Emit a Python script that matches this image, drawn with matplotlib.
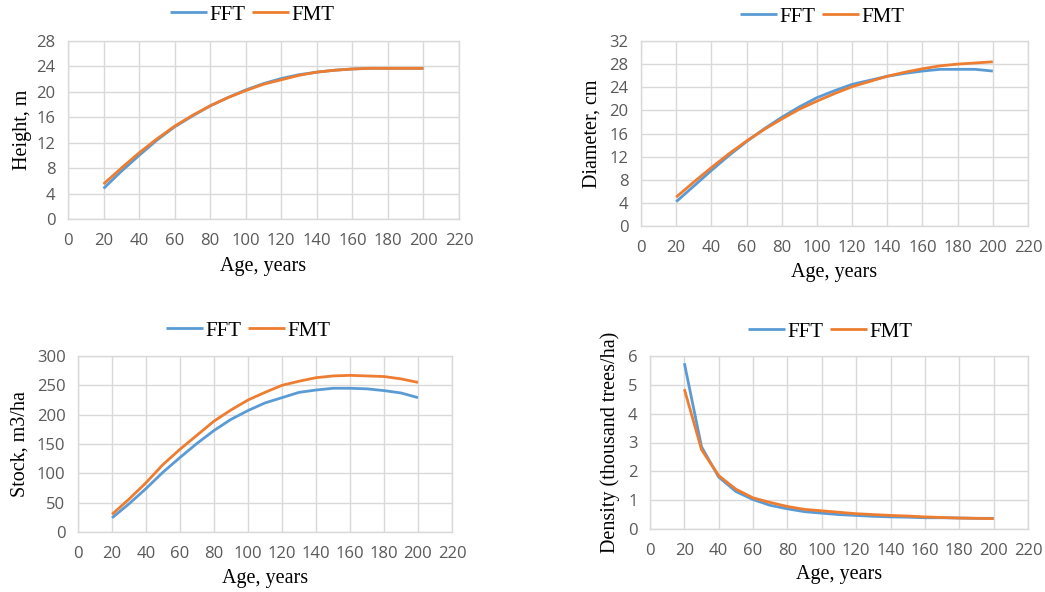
import matplotlib.pyplot as plt

W, H = 1045, 592

age = [20, 30, 40, 50, 60, 70, 80, 90, 100, 110, 120, 130, 140, 150, 160, 170, 180, 190, 200]

height_fft = [4.8, 7.5, 10.0, 12.4, 14.5, 16.2, 17.8, 19.1, 20.3, 21.3, 22.1, 22.7, 23.1, 23.4, 23.6, 23.7, 23.7, 23.7, 23.7]
height_fmt = [5.5, 8.0, 10.4, 12.6, 14.6, 16.3, 17.8, 19.1, 20.2, 21.2, 21.9, 22.6, 23.1, 23.4, 23.6, 23.7, 23.7, 23.7, 23.7]

diam_fft = [4.2, 6.9, 9.6, 12.2, 14.6, 16.8, 18.8, 20.6, 22.2, 23.4, 24.5, 25.2, 25.9, 26.4, 26.8, 27.1, 27.1, 27.1, 26.8]
diam_fmt = [5.0, 7.6, 10.1, 12.5, 14.7, 16.7, 18.5, 20.2, 21.6, 22.9, 24.1, 25.0, 25.9, 26.6, 27.2, 27.7, 28.0, 28.2, 28.4]

stock_fft = [24, 48, 74, 102, 127, 151, 173, 192, 207, 220, 229, 238, 242, 245, 245, 244, 241, 237, 229]
stock_fmt = [30, 56, 84, 115, 141, 165, 189, 208, 225, 238, 250, 257, 263, 266, 267, 266, 265, 261, 255]

dens_fft = [5.75, 2.85, 1.8, 1.3, 1.02, 0.82, 0.7, 0.6, 0.55, 0.5, 0.47, 0.44, 0.42, 0.41, 0.39, 0.39, 0.38, 0.37, 0.37]
dens_fmt = [4.85, 2.75, 1.85, 1.38, 1.08, 0.92, 0.78, 0.68, 0.63, 0.58, 0.53, 0.5, 0.47, 0.45, 0.42, 0.4, 0.38, 0.37, 0.36]

x_ticks = list(range(0, 221, 20))

BLUE = '#5B9BD5'
ORANGE = '#ED7D31'
GRID = '#D9D9D9'
TICK = '#595959'
SERIF = 'Liberation Serif'
SANS = 'Open Sans'

fig = plt.figure(figsize=(W / 100, H / 100), dpi=100)


def px_axes(left, top, right, bottom):
    return fig.add_axes([left / W, 1 - bottom / H, (right - left) / W, (bottom - top) / H])


# (plot box in px, y data, y ticks, ylabel, legend centre, ylabel x, xlabel y)
panels = [
    ((68, 41, 459, 219), height_fft, height_fmt, list(range(0, 29, 4)), 'Height, m', (252, 15), 22, 266),
    ((641, 41, 1028, 226), diam_fft, diam_fmt, list(range(0, 33, 4)), 'Diameter, cm', (822, 17), 592, 272),
    ((78, 356, 452, 532), stock_fft, stock_fmt, list(range(0, 301, 50)), 'Stock, m3/ha', (248, 331), 20, 578),
    ((650, 356, 1028, 529), dens_fft, dens_fmt, list(range(0, 7, 1)), 'Density (thousand trees/ha)', (830, 332), 610, 575),
]

for box, fft, fmt, yt, ylab, leg_c, ylab_x, xlab_y in panels:
    ax = px_axes(*box)
    ax.plot(age, fft, color=BLUE, lw=2.0, label='FFT', solid_capstyle='butt')
    ax.plot(age, fmt, color=ORANGE, lw=2.0, label='FMT', solid_capstyle='butt')
    ax.set_xlim(0, 220)
    ax.set_ylim(yt[0], yt[-1])
    ax.set_xticks(x_ticks)
    ax.set_yticks(yt)
    ax.grid(True, color=GRID, lw=1.0)
    ax.set_axisbelow(True)
    for s in ax.spines.values():
        s.set_color(GRID)
        s.set_linewidth(1.0)
    ax.tick_params(length=0, labelsize=12, labelcolor=TICK)
    ax.tick_params(axis='y', pad=9)
    ax.tick_params(axis='x', pad=10)
    for lab in ax.get_xticklabels() + ax.get_yticklabels():
        lab.set_fontfamily(SANS)
    ax.set_xlabel('Age, years', fontfamily=SERIF, fontsize=14.5)
    ax.set_ylabel(ylab, fontfamily=SERIF, fontsize=14.5)
    ax.xaxis.set_label_coords((box[0] + box[2]) / 2 / W, 1 - xlab_y / H, transform=fig.transFigure)
    ax.xaxis.label.set_va('center')
    ax.yaxis.set_label_coords(ylab_x / W, 1 - (box[1] + box[3]) / 2 / H, transform=fig.transFigure)
    ax.yaxis.label.set_va('center')
    ax.legend(loc='center', bbox_to_anchor=(leg_c[0] / W, 1 - leg_c[1] / H),
              bbox_transform=fig.transFigure, ncol=2, frameon=False,
              prop={'family': SERIF, 'size': 15}, handlelength=1.8,
              handletextpad=0.1, columnspacing=0.3, borderpad=0)

fig.savefig('out.png', dpi=100)
